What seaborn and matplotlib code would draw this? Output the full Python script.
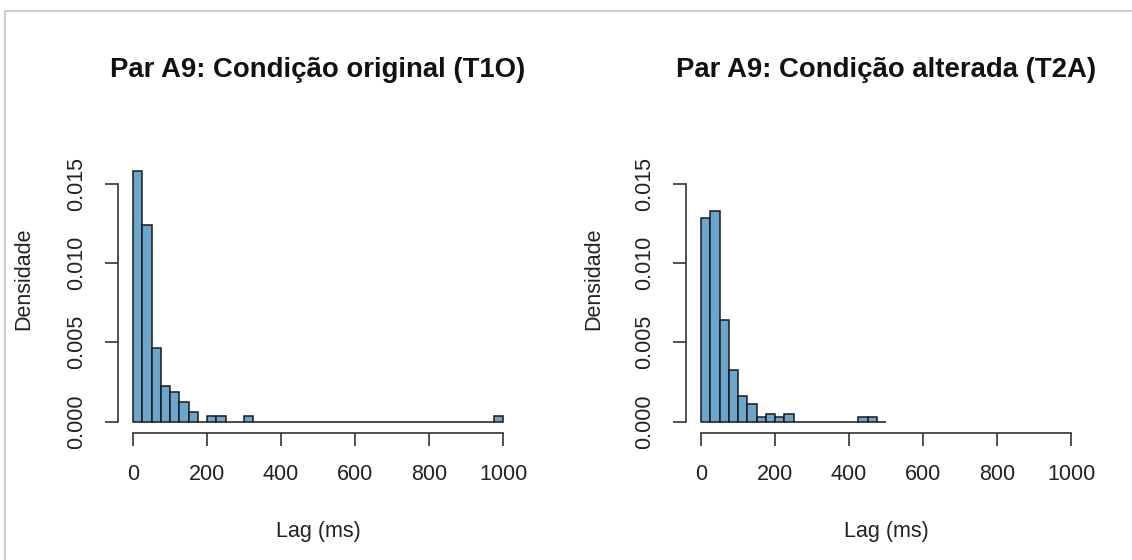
import numpy as np
import pandas as pd
import seaborn as sns
import matplotlib
matplotlib.use("Agg")
import matplotlib.pyplot as plt
from matplotlib.lines import Line2D

# ---- data (density per 25 ms bin) ----
bin_width = 25
t1o_bin_start = [0, 25, 50, 75, 100, 125, 150, 200, 225, 300, 975]
t1o_density = [0.0158, 0.0124, 0.00464, 0.00224, 0.00188, 0.00126, 0.00063,
               0.00036, 0.00036, 0.00036, 0.00036]
t1o_max_lag = 1000

t2a_bin_start = [0, 25, 50, 75, 100, 125, 150, 175, 200, 225, 425, 450]
t2a_density = [0.01287, 0.01328, 0.00642, 0.00324, 0.00161, 0.00109, 0.00031,
               0.00046, 0.00031, 0.00046, 0.00031, 0.00031]
t2a_max_lag = 500

titles = ["Par A9: Condição original (T1O)", "Par A9: Condição alterada (T2A)"]
xlabel = "Lag (ms)"
ylabel = "Densidade"
xticks = [0, 200, 400, 600, 800, 1000]
yticks = [0.000, 0.005, 0.010, 0.015]
ytick_labels = ["0.000", "0.005", "0.010", "0.015"]

sns.set_style("white")
plt.rcParams["font.family"] = ["Liberation Sans", "DejaVu Sans"]

W, H = 1132, 560
fig = plt.figure(figsize=(W / 100, H / 100), dpi=100)
fig.patch.set_facecolor("white")

# frame like the screenshot border
fig.add_artist(Line2D([5 / W, 1], [1 - 11 / H, 1 - 11 / H], transform=fig.transFigure,
                      color="#cfcfcf", lw=1.5))
fig.add_artist(Line2D([5 / W, 5 / W], [0, 1 - 11 / H], transform=fig.transFigure,
                      color="#cfcfcf", lw=1.5))

xlim = (-40, 1040)
ymax = 0.018
ylim = (-0.04 * ymax, 1.04 * ymax)
ax_w = 399.6
ax_h = 308.4
ax_bottom = 433.1
ax_top = ax_bottom - ax_h
lefts = [118.2, 686.2]
ylabel_x = [24, 594]

datasets = [
    (t1o_bin_start, t1o_density, t1o_max_lag),
    (t2a_bin_start, t2a_density, t2a_max_lag),
]

bar_color = "#6CA6CD"  # skyblue3
axis_color = "#333333"
text_color = "#222222"
fs = 15.5

for i, (starts, dens, maxlag) in enumerate(datasets):
    ax = fig.add_axes([lefts[i] / W, (H - ax_bottom) / H, ax_w / W, ax_h / H])
    df = pd.DataFrame({"lag": np.array(starts, dtype=float) + bin_width / 2,
                       "dens": np.array(dens, dtype=float)})
    sns.histplot(data=df, x="lag", weights="dens", binwidth=bin_width,
                 binrange=(0, maxlag), stat="count",
                 color=bar_color, alpha=1.0, edgecolor="#1a1a1a", linewidth=1.1,
                 ax=ax)
    ax.set_xlim(*xlim)
    ax.set_ylim(*ylim)
    for s in ["top", "right"]:
        ax.spines[s].set_visible(False)
    ax.spines["left"].set_bounds(0, 0.015)
    ax.spines["bottom"].set_bounds(0, 1000)
    for s in ["left", "bottom"]:
        ax.spines[s].set_color(axis_color)
        ax.spines[s].set_linewidth(1.2)
    ax.set_xticks(xticks)
    ax.set_xticklabels([str(v) for v in xticks])
    ax.set_yticks(yticks)
    ax.set_yticklabels(ytick_labels, rotation=90, va="center")
    ax.tick_params(axis="both", bottom=True, left=True, direction="out",
                   length=9.5, width=1.2, color=axis_color, labelsize=fs,
                   labelcolor=text_color)
    ax.tick_params(axis="x", pad=12.5)
    ax.tick_params(axis="y", pad=13)
    ax.set_xlabel(xlabel, fontsize=fs, color=text_color, va="center")
    ax.xaxis.set_label_coords(0.5, -(531 - ax_bottom) / ax_h)
    ax.set_ylabel(ylabel, fontsize=fs, color=text_color, va="center")
    ax.yaxis.set_label_coords(-(lefts[i] - ylabel_x[i]) / ax_w, 0.5)
    ax.set_title(titles[i], fontsize=19.8, fontweight="bold", color="#111111",
                 y=1 + (ax_top - 77) / ax_h, pad=0, va="baseline")
    ax.grid(False)
    ax.set_facecolor("white")

fig.savefig("out.png", dpi=100, facecolor="white")
